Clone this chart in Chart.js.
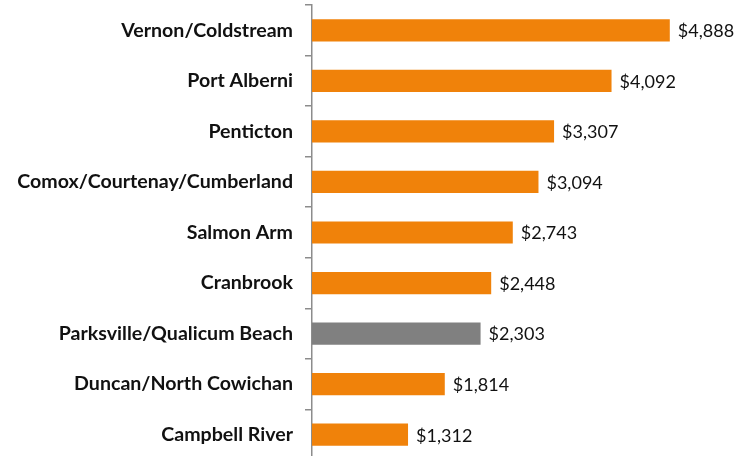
<!DOCTYPE html>
<html>
<head>
<meta charset="utf-8">
<script src="https://cdn.jsdelivr.net/npm/chart.js@4/dist/chart.umd.min.js"></script>
<style>
  html, body { margin: 0; padding: 0; background: #fff; overflow: hidden; }
  #wrap { width: 749px; height: 460px; position: relative; }
</style>
</head>
<body>
<div id="wrap"><canvas id="chart"></canvas></div>
<script>
// Dados do gráfico
const categories = [
  'Vernon/Coldstream',
  'Port Alberni',
  'Penticton',
  'Comox/Courtenay/Cumberland',
  'Salmon Arm',
  'Cranbrook',
  'Parksville/Qualicum Beach',
  'Duncan/North Cowichan',
  'Campbell River'
];
const values = [4888, 4092, 3307, 3094, 2743, 2448, 2303, 1814, 1312];
const highlighted = 'Parksville/Qualicum Beach';

const ORANGE = '#F0820A';
const GRAY = '#808080';
const barColors = categories.map(c => c === highlighted ? GRAY : ORANGE);

// Rótulos de valor à direita das barras
const valueLabels = {
  id: 'valueLabels',
  afterDatasetsDraw(chart) {
    const ctx = chart.ctx;
    const meta = chart.getDatasetMeta(0);
    ctx.save();
    ctx.font = '18px Lato, "Open Sans", sans-serif';
    ctx.fillStyle = '#111';
    ctx.textAlign = 'left';
    ctx.textBaseline = 'middle';
    meta.data.forEach((bar, i) => {
      const txt = '$' + values[i].toLocaleString('en-US');
      ctx.fillText(txt, bar.x + 8, bar.y + 1);
    });
    ctx.restore();
  }
};

new Chart(document.getElementById('chart'), {
  type: 'bar',
  data: {
    labels: categories,
    datasets: [{
      data: values,
      backgroundColor: barColors,
      borderWidth: 0,
      categoryPercentage: 1,
      barPercentage: 0.44
    }]
  },
  options: {
    indexAxis: 'y',
    responsive: true,
    maintainAspectRatio: false,
    animation: false,
    layout: { padding: { top: 5, right: 0, bottom: 0, left: 0 } },
    plugins: {
      legend: { display: false },
      tooltip: { enabled: false }
    },
    scales: {
      x: {
        display: false,
        min: 0,
        max: 5970
      },
      y: {
        offset: true,
        afterFit(scale) {
          scale.width = 312;
          scale.paddingTop = 0;
          scale.paddingBottom = 0;
        },
        grid: {
          offset: true,
          drawOnChartArea: false,
          drawTicks: true,
          tickLength: 7,
          color: '#8c8c8c',
          lineWidth: 1.5
        },
        border: { display: true, color: '#8c8c8c', width: 1.5 },
        ticks: {
          padding: 12,
          color: '#111',
          font: { family: 'Lato, "Open Sans", sans-serif', size: 19.6, weight: 'bold' }
        }
      }
    }
  },
  plugins: [valueLabels]
});
</script>
</body>
</html>
